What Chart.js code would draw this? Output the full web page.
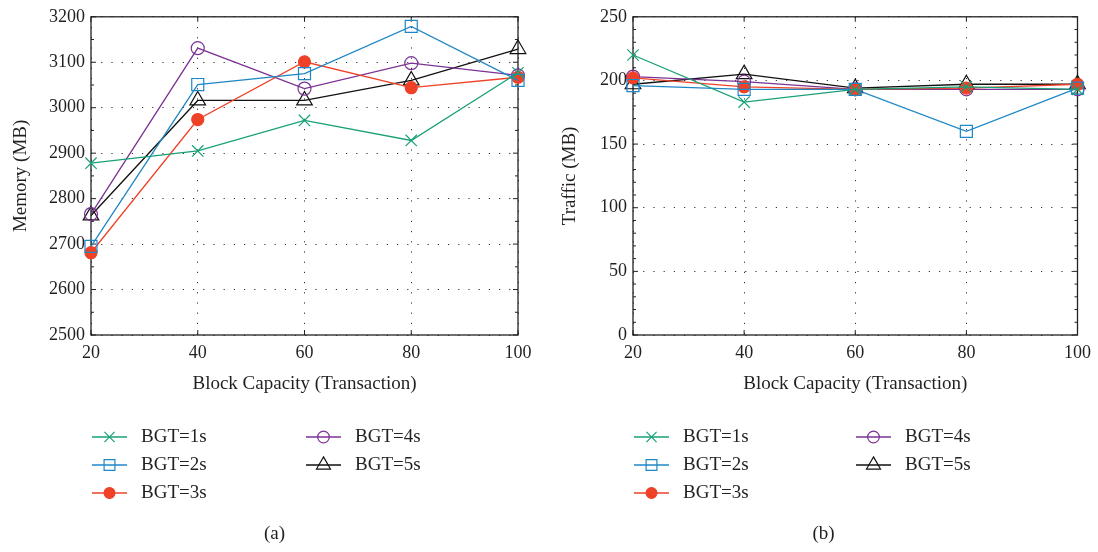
<!DOCTYPE html>
<html>
<head>
<meta charset="utf-8">
<script src="https://cdn.jsdelivr.net/npm/chart.js@4.4.1/dist/chart.umd.min.js"></script>
<style>
  body { margin: 0; background: #fff; }
  .wrap { display: flex; width: 1098px; height: 552px; }
  .box { position: relative; width: 549px; height: 552px; }
</style>
</head>
<body>
<div class="wrap">
  <div class="box"><canvas id="memChart"></canvas></div>
  <div class="box"><canvas id="trafficChart"></canvas></div>
</div>
<script>
// data
const capacity = ['20', '40', '60', '80', '100'];
const seriesNames = ['BGT=1s', 'BGT=2s', 'BGT=3s', 'BGT=4s', 'BGT=5s'];

const memBgt1 = [2878, 2905, 2972, 2928, 3077];
const memBgt2 = [2695, 3051, 3075, 3179, 3060];
const memBgt3 = [2681, 2974, 3101, 3044, 3067];
const memBgt4 = [2766, 3131, 3042, 3098, 3071];
const memBgt5 = [2763, 3016, 3016, 3060, 3129];

const trafficBgt1 = [220, 183, 193, 195, 193];
const trafficBgt2 = [196, 193, 193, 160, 194];
const trafficBgt3 = [202, 195, 193, 194, 197];
const trafficBgt4 = [203, 199, 193, 193, 193];
const trafficBgt5 = [197, 205, 194, 197, 197];

const FONT = "'Liberation Serif', 'DejaVu Serif', serif";
const TEXT = '#231f20';

const styles = [
  { color: '#18a078', pointStyle: 'crossRot', radius: 8, fill: false },
  { color: '#1f87c6', pointStyle: 'rect', radius: 8.5, fill: false },
  { color: '#ee4128', pointStyle: 'circle', radius: 6, fill: true },
  { color: '#7b3294', pointStyle: 'circle', radius: 6.5, fill: false },
  { color: '#111111', pointStyle: 'triangle', radius: 9, fill: false }
];

function makeDatasets(seriesList) {
  return seriesList.map((vals, i) => {
    const s = styles[i];
    return {
      label: seriesNames[i],
      data: vals,
      borderColor: s.color,
      backgroundColor: s.fill ? s.color : 'rgba(0,0,0,0)',
      pointBorderColor: s.color,
      pointBackgroundColor: s.fill ? s.color : 'rgba(0,0,0,0)',
      pointStyle: s.pointStyle,
      pointRadius: s.radius,
      pointHoverRadius: s.radius,
      pointBorderWidth: 1.2,
      borderWidth: 1.3,
      tension: 0,
      clip: false
    };
  });
}

// frame, inner ticks, legend and caption
const framePlugin = {
  id: 'frame',
  beforeDatasetsDraw(chart, args, opts) {
    const { ctx, chartArea: a, scales } = chart;
    ctx.save();
    ctx.strokeStyle = '#222';
    ctx.lineWidth = 1.3;
    ctx.strokeRect(a.left, a.top, a.right - a.left, a.bottom - a.top);
    ctx.lineWidth = 1;
    const y = scales.y;
    for (let v = y.min; v <= y.max + 1e-6; v += opts.minorStep) {
      const py = y.getPixelForValue(v);
      const major = Math.abs((v - y.min) % opts.majorStep) < 1e-6;
      const len = major ? 5 : 3;
      ctx.beginPath();
      ctx.moveTo(a.left, py); ctx.lineTo(a.left + len, py);
      ctx.moveTo(a.right, py); ctx.lineTo(a.right - len, py);
      ctx.stroke();
    }
    const x = scales.x;
    capacity.forEach((c, i) => {
      const px = x.getPixelForValue(i);
      ctx.beginPath();
      ctx.moveTo(px, a.top); ctx.lineTo(px, a.top + 5);
      ctx.moveTo(px, a.bottom); ctx.lineTo(px, a.bottom - 5);
      ctx.stroke();
    });
    ctx.restore();
  },
  afterDraw(chart, args, opts) {
    const { ctx, chartArea: a } = chart;
    ctx.save();
    ctx.font = '19px ' + FONT;
    ctx.fillStyle = TEXT;
    ctx.textBaseline = 'middle';
    const rows = [437, 465, 493];
    chart.data.datasets.forEach((ds, i) => {
      const col = i < 3 ? 0 : 1;
      const row = i < 3 ? i : i - 3;
      const x0 = a.left + 1 + col * opts.colGap;
      const yy = rows[row];
      const s = styles[i];
      ctx.strokeStyle = s.color;
      ctx.lineWidth = 1.3;
      ctx.beginPath();
      ctx.moveTo(x0, yy); ctx.lineTo(x0 + 35, yy);
      ctx.stroke();
      ctx.fillStyle = s.fill ? s.color : 'rgba(0,0,0,0)';
      ctx.lineWidth = 1.2;
      Chart.helpers.drawPoint(ctx, { pointStyle: s.pointStyle, radius: s.radius * 0.9, borderWidth: 1.2, rotation: 0 }, x0 + 17.5, yy);
      ctx.fillStyle = TEXT;
      ctx.textAlign = 'left';
      ctx.fillText(ds.label, x0 + 49, yy);
    });
    ctx.textAlign = 'center';
    ctx.fillText(opts.caption, chart.width / 2, 534);
    ctx.restore();
  }
};

function createChart(canvasId, seriesList, yTitle, yMin, yMax, yStep, minorStep, yWidth, rightPad, colGap, caption) {
  const ctx = document.getElementById(canvasId);
  return new Chart(ctx, {
    type: 'line',
    data: { labels: capacity, datasets: makeDatasets(seriesList) },
    plugins: [framePlugin],
    options: {
      responsive: true,
      maintainAspectRatio: false,
      animation: false,
      layout: { padding: { top: 15, right: rightPad, bottom: 157, left: 0 } },
      plugins: {
        legend: { display: false },
        tooltip: { enabled: false },
        frame: { majorStep: yStep, minorStep: minorStep, colGap: colGap, caption: caption }
      },
      scales: {
        x: {
          offset: false,
          afterFit: s => { s.height = 60; },
          grid: { color: '#333', drawTicks: false, lineWidth: 1 },
          border: { display: false, dash: [1.2, 9] },
          ticks: { color: TEXT, font: { family: FONT, size: 18 }, padding: 7, maxRotation: 0 },
          title: { display: true, text: 'Block Capacity (Transaction)', color: TEXT, font: { family: FONT, size: 19 }, padding: { top: 6, bottom: 0 } }
        },
        y: {
          min: yMin, max: yMax,
          afterFit: s => { s.width = yWidth; },
          grid: { color: '#333', drawTicks: false, lineWidth: 1 },
          border: { display: false, dash: [1.2, 9] },
          ticks: { stepSize: yStep, color: TEXT, font: { family: FONT, size: 18 }, padding: 6, callback: v => String(v) },
          title: { display: true, text: yTitle, color: TEXT, font: { family: FONT, size: 19 }, padding: { top: 10, bottom: 4 } }
        }
      }
    }
  });
}

createChart('memChart', [memBgt1, memBgt2, memBgt3, memBgt4, memBgt5],
  'Memory (MB)', 2500, 3200, 100, 50, 91, 31, 214, '(a)');
createChart('trafficChart', [trafficBgt1, trafficBgt2, trafficBgt3, trafficBgt4, trafficBgt5],
  'Traffic (MB)', 0, 250, 50, 10, 84, 20, 222, '(b)');
</script>
</body>
</html>
